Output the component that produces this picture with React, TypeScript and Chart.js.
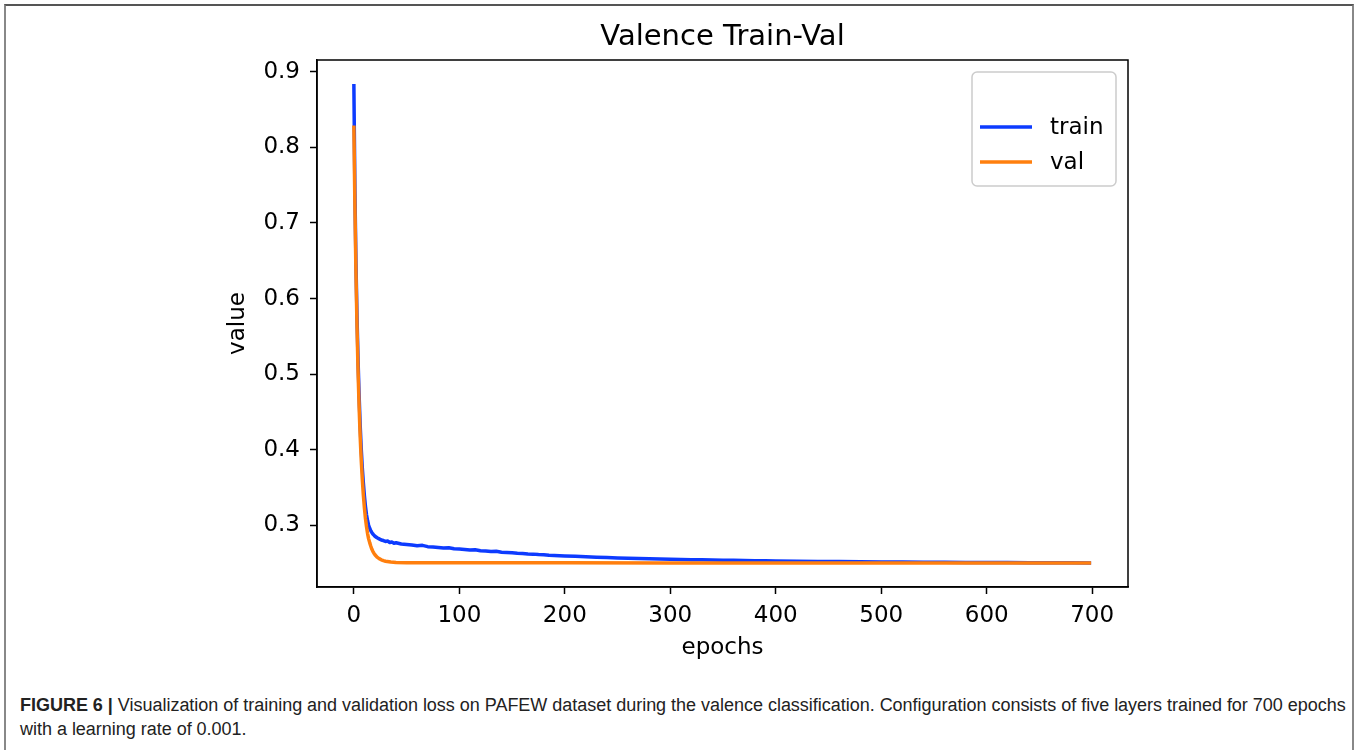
import React, { useEffect, useRef } from "react";
import { Chart, registerables } from "chart.js";

Chart.register(...registerables);

const chartTitle = "Valence Train-Val";
const xAxisLabel = "epochs";
const yAxisLabel = "value";
const seriesNames = ["train", "val"];
const seriesColors = ["#0d3bff", "#ff7f0e"];

const xTickValues = [0, 100, 200, 300, 400, 500, 600, 700];
const yTickValues = [0.3, 0.4, 0.5, 0.6, 0.7, 0.8, 0.9];

const trainEpochs = [
  0, 1, 2, 3, 4, 5, 6, 7, 8, 9, 10, 11, 12, 13, 14, 15, 16, 17, 18, 19, 20,
  22, 24, 26, 28, 30, 32, 34, 36, 38, 40,
  45, 50, 55, 60, 65, 70, 75, 80, 85, 90, 95, 100, 105, 110, 115, 120, 125, 130, 135, 140,
  145, 150, 155, 160, 165, 170, 175, 180, 185, 190, 195, 200,
  210, 220, 230, 240, 250, 260, 270, 280, 290, 300, 310, 320, 330, 340, 350, 360, 370, 380, 390, 400,
  420, 440, 460, 480, 500, 520, 540, 560, 580, 600, 620, 640, 660, 680, 699,
];
const trainLoss = [
  0.884, 0.742, 0.646, 0.575, 0.517, 0.471, 0.432, 0.401, 0.376, 0.356, 0.339, 0.325, 0.314, 0.306, 0.3, 0.296, 0.293, 0.2905, 0.2885, 0.287, 0.2855,
  0.2835, 0.282, 0.2805, 0.2798, 0.2786, 0.2791, 0.2772, 0.2779, 0.2763, 0.2769,
  0.2753, 0.2746, 0.2739, 0.2729, 0.2734, 0.2717, 0.2713, 0.2706, 0.2699, 0.2703, 0.2689, 0.2685, 0.268, 0.2672, 0.2676, 0.2664, 0.266, 0.2652, 0.2655, 0.2644,
  0.264, 0.2636, 0.263, 0.2627, 0.262, 0.2618, 0.2612, 0.2609, 0.2603, 0.2601, 0.2597, 0.2594,
  0.2589, 0.2583, 0.2578, 0.2573, 0.2568, 0.2565, 0.2561, 0.2557, 0.2554, 0.2551, 0.2548, 0.2545, 0.2543, 0.254, 0.2538, 0.2536, 0.2534, 0.2532, 0.253, 0.2528,
  0.2525, 0.2522, 0.2519, 0.2517, 0.2515, 0.2513, 0.2511, 0.251, 0.2508, 0.2507, 0.2506, 0.2505, 0.2504, 0.2503, 0.2502,
];

const valEpochs = [
  0, 1, 2, 3, 4, 5, 6, 7, 8, 9, 10, 11, 12, 13, 14, 15, 16, 17, 18, 19, 20,
  22, 24, 26, 28, 30, 35, 40, 50, 100, 200, 300, 400, 500, 600, 699,
];
const valLoss = [
  0.829, 0.722, 0.633, 0.562, 0.503, 0.456, 0.417, 0.386, 0.361, 0.34, 0.323, 0.309, 0.298, 0.289, 0.282, 0.277, 0.2725, 0.2685, 0.2655, 0.263, 0.261,
  0.2578, 0.2558, 0.2543, 0.2532, 0.2524, 0.2513, 0.2508, 0.2505, 0.2504, 0.2503, 0.2502, 0.2502, 0.2501, 0.2501, 0.25,
];

const captionBold = "FIGURE 6 |";
const captionLine1 =
  " Visualization of training and validation loss on PAFEW dataset during the valence classification. Configuration consists of five layers trained for 700 epochs";
const captionLine2 = "with a learning rate of 0.001.";

const FONT = '"DejaVu Sans", sans-serif';

function paddedRange(values: number[]) {
  const lo = Math.min(...values);
  const hi = Math.max(...values);
  const m = (hi - lo) * 0.05;
  return [lo - m, hi + m];
}

const overlayPlugin = {
  id: "mplOverlay",
  afterDraw(chart: any) {
    const { ctx, chartArea: a } = chart;
    ctx.save();
    ctx.strokeStyle = "#000";
    ctx.lineWidth = 1.5;
    ctx.strokeRect(a.left, a.top, a.right - a.left, a.bottom - a.top);
    ctx.fillStyle = "#000";
    ctx.font = `29px ${FONT}`;
    ctx.textAlign = "center";
    ctx.textBaseline = "alphabetic";
    ctx.fillText(chartTitle, (a.left + a.right) / 2, 45);
    const bw = 144;
    const bh = 114;
    const bx = a.right - 12 - bw;
    const by = a.top + 12;
    ctx.beginPath();
    ctx.roundRect(bx, by, bw, bh, 5);
    ctx.fillStyle = "rgba(255,255,255,0.9)";
    ctx.fill();
    ctx.strokeStyle = "#cccccc";
    ctx.lineWidth = 1.5;
    ctx.stroke();
    ctx.font = `23px ${FONT}`;
    ctx.textAlign = "left";
    ctx.textBaseline = "middle";
    chart.data.datasets.forEach((ds: any) => {
      const idx = seriesNames.indexOf(ds.label);
      const y = by + 55 + idx * 35;
      ctx.strokeStyle = ds.borderColor;
      ctx.lineWidth = 3.5;
      ctx.beginPath();
      ctx.moveTo(bx + 8, y);
      ctx.lineTo(bx + 60, y);
      ctx.stroke();
      ctx.fillStyle = "#000";
      ctx.fillText(ds.label, bx + 78, y + 1);
    });
    ctx.restore();
  },
};

export default function App() {
  const ref = useRef<HTMLCanvasElement | null>(null);

  useEffect(() => {
    if (!ref.current) return;
    const [xMin, xMax] = paddedRange([...trainEpochs, ...valEpochs]);
    const [yMin, yMax] = paddedRange([...trainLoss, ...valLoss]);
    const tickFont = { family: FONT, size: 23 };
    const chart = new Chart(ref.current, {
      type: "line",
      data: {
        datasets: [
          {
            label: seriesNames[0],
            data: trainEpochs.map((x, i) => ({ x, y: trainLoss[i] })),
            borderColor: seriesColors[0],
            borderWidth: 3.5,
            pointRadius: 0,
            tension: 0,
            order: 1,
            borderJoinStyle: "round",
          },
          {
            label: seriesNames[1],
            data: valEpochs.map((x, i) => ({ x, y: valLoss[i] })),
            borderColor: seriesColors[1],
            borderWidth: 3.5,
            pointRadius: 0,
            tension: 0,
            order: 0,
            borderJoinStyle: "round",
          },
        ],
      },
      options: {
        animation: false,
        responsive: false,
        layout: { padding: { left: 200, right: 232, top: 60, bottom: 10 } },
        plugins: {
          legend: { display: false },
          tooltip: { enabled: false },
          title: { display: false },
        },
        scales: {
          x: {
            type: "linear",
            min: xMin,
            max: xMax,
            afterBuildTicks: (axis: any) => {
              axis.ticks = xTickValues.map((v) => ({ value: v }));
            },
            afterFit: (axis: any) => {
              axis.height = 83;
            },
            ticks: {
              color: "#000",
              font: tickFont,
              padding: 8,
              maxRotation: 0,
              autoSkip: false,
              callback: (v: any) => String(v),
            },
            grid: {
              display: true,
              drawOnChartArea: false,
              drawTicks: true,
              tickLength: 7,
              tickColor: "#000",
              tickWidth: 1.5,
            },
            border: { display: true, color: "#000", width: 1.5 },
            title: {
              display: true,
              text: xAxisLabel,
              color: "#000",
              font: tickFont,
              padding: { top: 0, bottom: 8 },
            },
          },
          y: {
            type: "linear",
            min: yMin,
            max: yMax,
            afterBuildTicks: (axis: any) => {
              axis.ticks = yTickValues.map((v) => ({ value: v }));
            },
            afterFit: (axis: any) => {
              axis.width = 117;
            },
            ticks: {
              color: "#000",
              font: tickFont,
              padding: 10,
              autoSkip: false,
              callback: (v: any) => Number(v).toFixed(1),
            },
            grid: {
              display: true,
              drawOnChartArea: false,
              drawTicks: true,
              tickLength: 7,
              tickColor: "#000",
              tickWidth: 1.5,
            },
            border: { display: true, color: "#000", width: 1.5 },
            title: {
              display: true,
              text: yAxisLabel,
              color: "#000",
              font: tickFont,
              padding: { top: 24, bottom: 0 },
            },
          },
        },
      },
      plugins: [overlayPlugin],
    } as any);
    return () => chart.destroy();
  }, []);

  return (
    <div
      style={{
        position: "fixed",
        left: 0,
        top: 0,
        width: 1360,
        height: 750,
        overflow: "hidden",
        background: "#fff",
      }}
    >
      <div
        style={{
          position: "absolute",
          left: 4,
          top: 4,
          width: 1350,
          height: 770,
          borderTop: "2px solid #555",
          borderLeft: "2px solid #888",
          borderRight: "2px solid #888",
          boxSizing: "border-box",
        }}
      />
      <canvas
        ref={ref}
        width={1360}
        height={680}
        style={{ position: "absolute", left: 0, top: 0, width: 1360, height: 680 }}
      />
      <div
        style={{
          position: "absolute",
          left: 20,
          top: 693,
          fontFamily: '"Liberation Sans Narrow", "Liberation Sans", sans-serif',
          fontSize: 18,
          lineHeight: "24px",
          letterSpacing: "-0.02px",
          color: "#222",
          whiteSpace: "nowrap",
        }}
      >
        <b>{captionBold}</b>
        {captionLine1}
        <br />
        {captionLine2}
      </div>
    </div>
  );
}
